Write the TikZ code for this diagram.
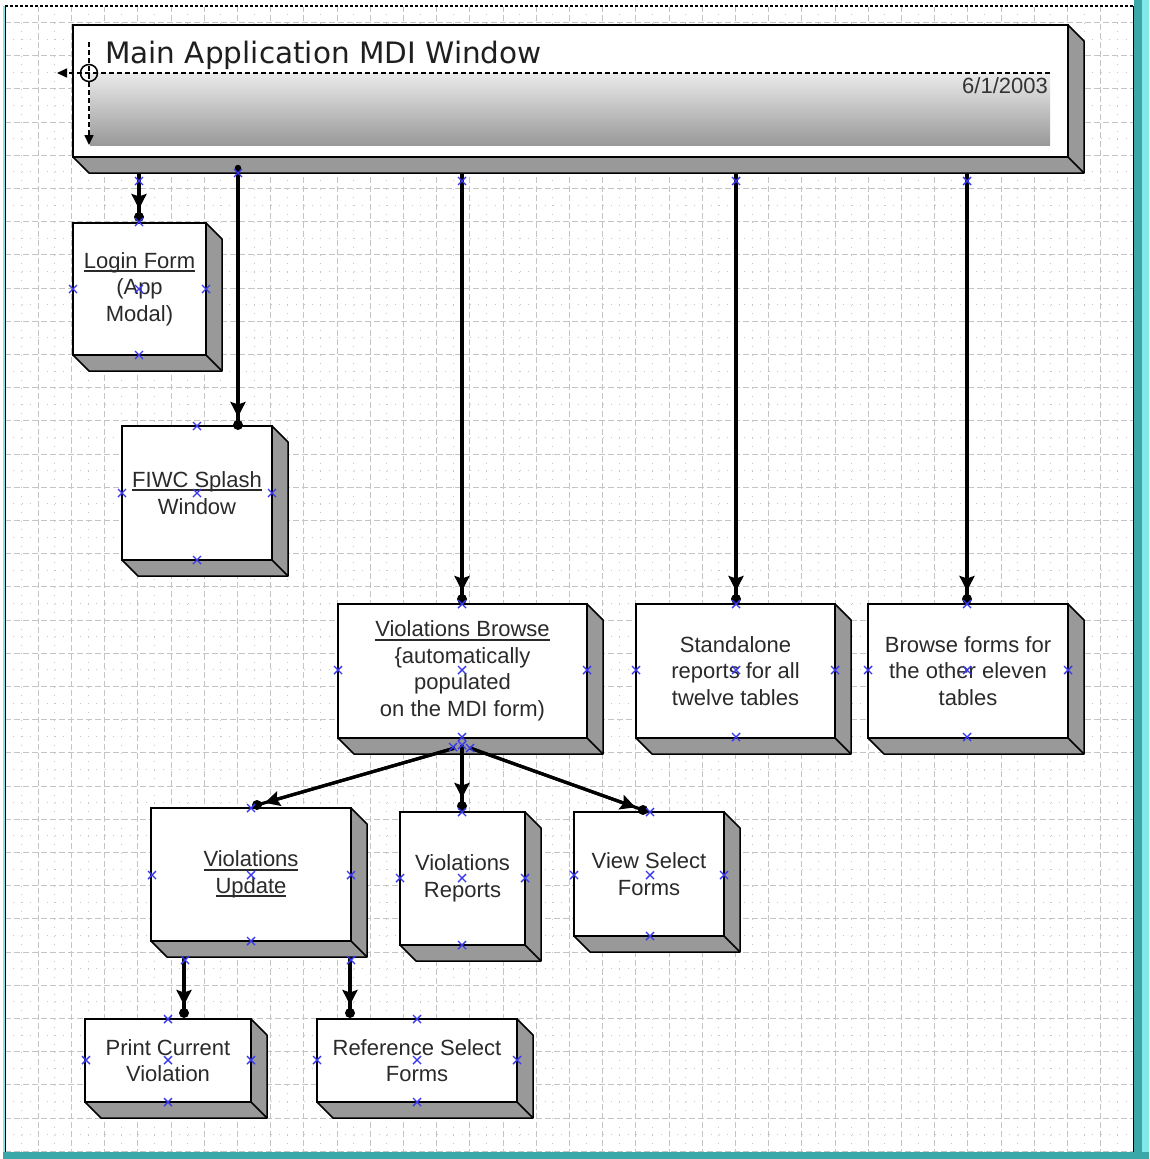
\documentclass[tikz,border=0pt]{standalone}
\usepackage{fontspec}
\setmainfont{Liberation Sans}
\newfontfamily\titlefam{DejaVu Sans}
\usetikzlibrary{arrows.meta,calc}
\definecolor{gridc}{HTML}{C4C4C4}
\definecolor{gridm}{HTML}{C8C8C8}
\definecolor{sidec}{HTML}{999999}
\definecolor{txtc}{HTML}{2A2A2A}
\definecolor{markc}{HTML}{3838F0}
\definecolor{tealc}{HTML}{3AA8A8}
\definecolor{cyanc}{HTML}{80E8E8}
\newcommand\myul[1]{\leavevmode\setbox0=\hbox{#1}\rlap{\rule[-3.6pt]{\wd0}{1.8pt}}\box0}
\begin{document}
\begin{tikzpicture}[x=1pt,y=-1pt,
  front/.style={draw=black, fill=white, line width=1.8pt, outer sep=0pt, inner sep=0pt,
    align=center, text=txtc, font=\fontsize{22}{26.5}\selectfont},
  side/.style={draw=black, fill=sidec, line width=1.5pt, line join=round},
  conn/.style={line width=3.2pt},
  tipped/.style={conn, -{Stealth[length=15pt,width=15pt,inset=2.5pt]}, shorten >=8pt},
  majg/.style={gridc, line width=1pt, dash pattern=on 6pt off 3pt},
  ming/.style={gridm, line width=1pt, dash pattern=on 1pt off 7.3pt},
  xmk/.style={markc, line width=1.4pt},
  ind/.style={line width=1.6pt, dash pattern=on 5pt off 3pt}]
\useasboundingbox (0,0) rectangle (1149,1159);
\fill[white] (0,0) rectangle (1149,1159);
% grid
\begin{scope}
\clip (6,7) rectangle (1133,1152);
\foreach \k in {0,...,34} {
  \draw[majg] ({5+33.2*\k},6) -- ({5+33.2*\k},1152);
  \draw[ming] ({21.6+33.2*\k},6) -- ({21.6+33.2*\k},1152);
  \draw[majg] (5,{22.5+33.2*\k}) -- (1133,{22.5+33.2*\k});
  \draw[ming] (5,{5.9+33.2*\k}) -- (1133,{5.9+33.2*\k});
}
\end{scope}
% frame
\fill[tealc] (1134,0) rectangle (1149,1159);
\fill[cyanc] (1142,0) rectangle (1149,1152);
\fill[tealc] (3,1152) rectangle (1149,1159);
\draw[cyanc, line width=1.2pt] (4,6) -- (4,1152);
\draw[black, line width=1.2pt] (5.5,6) -- (5.5,1152);
\draw[black, line width=1.2pt] (1133.5,6) -- (1133.5,1152);
\draw[black, line width=1.6pt, dash pattern=on 3pt off 2pt] (5,6) -- (1133,6);

% boxes (front faces)
\node[front, minimum width=995pt, minimum height=132pt] (main) at (570.5,91) {};
\node[front, minimum width=133pt, minimum height=132pt] (login) at (139.5,289) {\myul{Login Form}\\(App\\Modal)};
\node[front, minimum width=150pt, minimum height=134pt] (fiwc) at (197,493) {\myul{FIWC Splash}\\Window};
\node[front, minimum width=249pt, minimum height=134pt] (vb) at (462.5,671) {\myul{Violations Browse}\\\{automatically\\populated\\on the MDI form)};
\node[front, minimum width=199pt, minimum height=134pt] (sa) at (735.5,671) {Standalone\\reports for all\\twelve tables};
\node[front, minimum width=200pt, minimum height=134pt] (bf) at (968,671) {Browse forms for\\the other eleven\\tables};
\node[front, minimum width=200pt, minimum height=133pt] (vu) at (251,874.5) {\myul{Violations}\\\myul{Update}};
\node[front, minimum width=125pt, minimum height=133pt] (vr) at (462.5,878.5) {Violations\\Reports};
\node[front, minimum width=150pt, minimum height=124pt] (vsf) at (649,874) {View Select\\Forms};
\node[front, minimum width=166pt, minimum height=83pt] (pcv) at (168,1060.5) {Print Current\\Violation};
\node[front, minimum width=200pt, minimum height=83pt] (rsf) at (417,1060.5) {Reference Select\\Forms};

% extrusions
\foreach \n in {main,login,fiwc,vb,sa,bf,vu,vr,vsf,pcv,rsf} {
  \filldraw[side] (\n.north east) -- ($(\n.north east)+(16,16)$) -- ($(\n.south east)+(16,16)$)
     -- ($(\n.south west)+(16,16)$) -- (\n.south west) -- (\n.south east) -- cycle;
  \draw[side] (\n.south east) -- ($(\n.south east)+(16,16)$);
}

% main window content
\shade[top color=black!8, bottom color=black!40] (90,73) rectangle (1050,145);
\node[anchor=base west, inner sep=0pt, text=black!88, font=\titlefam\fontsize{29.5}{34}\selectfont] (title) at (105,63) {Main Application MDI Window};
\node[anchor=base east, inner sep=0pt, text=black!80, font=\fontsize{22}{26}\selectfont] (date) at (1048,93) {6/1/2003};
\coordinate (hx) at (89,73);
\draw[ind, -{Triangle[length=10pt,width=9pt]}] (89,42) -- (89,145);
\draw[ind, -{Triangle[length=10pt,width=9pt]}] (1050,73) -- (57,73);
\draw[line width=1.5pt] (hx) circle[radius=8.5];

% connector points
\coordinate (m1) at (139,173);  \coordinate (d1) at (139,217);
\coordinate (m2) at (238,168);  \coordinate (d2) at (238,425);
\coordinate (m3) at (462,173);  \coordinate (d3) at (462,599);
\coordinate (m4) at (736,173);  \coordinate (d4) at (736,599);
\coordinate (m5) at (967,173);  \coordinate (d5) at (967,599);
\coordinate (b1) at (455,748);  \coordinate (d6) at (257,805);
\coordinate (b2) at (462,745);  \coordinate (d7) at (462,806);
\coordinate (b3) at (470,748);  \coordinate (d8) at (643,810);
\coordinate (u1) at (184,957);  \coordinate (d9) at (184,1013);
\coordinate (u2) at (350,957);  \coordinate (d10) at (350,1013);

\foreach \s/\e in {m1/d1,m2/d2,m3/d3,m4/d4,m5/d5,b1/d6,b2/d7,b3/d8,u1/d9,u2/d10} {
  \draw[conn] (\s) -- (\e);
  \draw[tipped] (\s) -- (\e);
  \fill (\e) circle[radius=5];
}
\fill (m2) circle[radius=3.2];

% connection marks
\foreach \p in {(139,181),(238,173),(462,181),(736,181),(967,181),
  (139,222),(73,289),(206,289),(139,289),(139,355),
  (197,426),(122,493),(272,493),(197,493),(197,560),
  (462,604),(338,670),(462,670),(587,670),(462,737),(453,747),(462,745),(470,748),
  (736,604),(636,670),(736,670),(835,670),(736,737),
  (967,604),(868,670),(967,670),(1068,670),(967,737),
  (251,808),(152,875),(251,875),(351,875),(251,941),(185,960),(351,960),
  (462,812),(400,878),(462,878),(525,878),(462,945),
  (650,812),(574,875),(650,875),(724,875),(650,936),
  (168,1019),(86,1060),(168,1060),(251,1060),(168,1102),
  (417,1019),(317,1060),(417,1060),(517,1060),(417,1102)} {
  \draw[xmk] \p ++(-4,-4) -- ++(8,8) ++(-8,0) -- ++(8,-8);
}
\end{tikzpicture}
\end{document}
